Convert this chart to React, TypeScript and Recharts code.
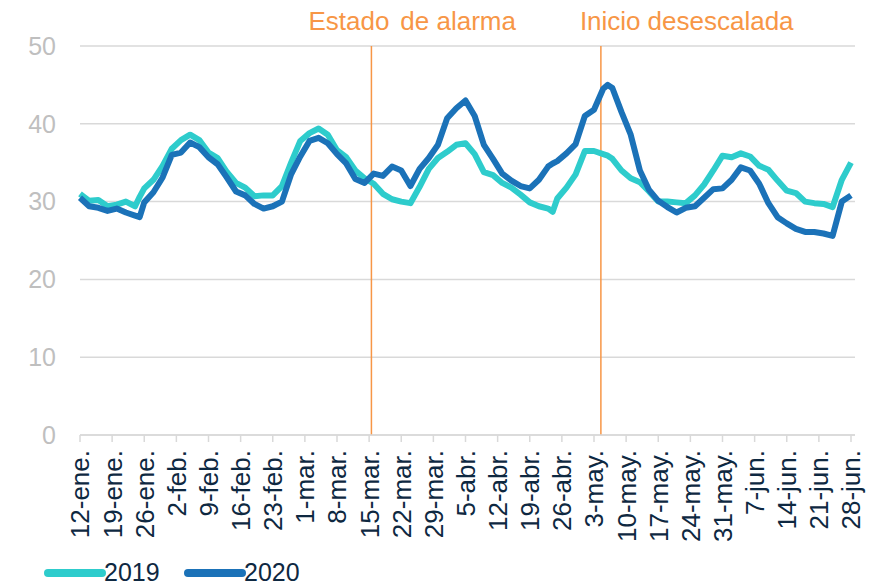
import React from "react";
import { LineChart, Line, XAxis, YAxis, CartesianGrid, ReferenceLine, Legend } from "recharts";

const days = [0,2,4,6,8,10,12,13,14,16,18,20,22,24,26,28,30,32,34,36,38,40,42,44,46,48,50,52,54,56,58,60,62,64,66,68,70,72,74,76,78,80,82,84,86,88,90,92,94,96,98,100,102,103,104,106,108,110,112,114,115,116,118,120,122,124,126,128,130,132,134,136,138,140,142,144,146,148,150,152,154,156,158,160,162,164,166,168];
const values2019 = [31.0,30.1,30.2,29.4,29.6,30.0,29.4,30.6,31.7,32.8,34.6,36.8,37.9,38.6,37.9,36.3,35.6,33.8,32.4,31.8,30.7,30.8,30.8,32.0,35.0,37.8,38.8,39.4,38.6,36.6,35.7,34.0,33.0,32.3,31.0,30.3,30.0,29.8,31.9,34.2,35.6,36.4,37.3,37.5,36.1,33.8,33.4,32.4,31.8,30.9,29.9,29.4,29.1,28.7,30.4,31.8,33.5,36.5,36.5,36.1,35.9,35.5,34.0,33.0,32.5,31.3,30.0,30.0,29.9,29.8,30.8,32.2,34.0,35.9,35.7,36.2,35.8,34.6,34.1,32.7,31.4,31.1,30.0,29.8,29.7,29.3,32.8,35.0];
const values2020 = [30.5,29.4,29.2,28.8,29.1,28.6,28.2,28.0,29.9,31.2,33.1,36.0,36.3,37.6,37.0,35.7,34.8,33.1,31.3,30.8,29.7,29.1,29.4,30.0,33.5,35.8,37.8,38.2,37.5,36.1,34.9,32.9,32.4,33.6,33.3,34.5,34.0,32.0,34.2,35.6,37.3,40.7,42.0,43.0,41.0,37.3,35.5,33.6,32.7,32.0,31.7,32.8,34.5,34.9,35.2,36.2,37.4,41.0,41.8,44.5,45.0,44.6,41.5,38.6,34.0,31.5,30.1,29.3,28.6,29.2,29.4,30.5,31.6,31.7,32.8,34.4,34.0,32.3,29.8,28.0,27.2,26.5,26.1,26.1,25.9,25.6,30.0,30.8];

const tickDays = [0,7,14,21,28,35,42,49,56,63,70,77,84,91,98,105,112,119,126,133,140,147,154,161,168];
const tickLabels = ["12-ene.","19-ene.","26-ene.","2-feb.","9-feb.","16-feb.","23-feb.","1-mar.","8-mar.","15-mar.","22-mar.","29-mar.","5-abr.","12-abr.","19-abr.","26-abr.","3-may.","10-may.","17-may.","24-may.","31-may.","7-jun.","14-jun.","21-jun.","28-jun."];
const yTicks = [0,10,20,30,40,50];

const eventDays = [63.5, 113.5];
const eventLabels = [["Estado", "de alarma"], ["Inicio", "desescalada"]];
const eventLabelShift = [-63, -21];

const seriesNames = ["2019", "2020"];
const seriesColors = ["#2ECCCC", "#1B72B8"];

const data = days.map((d, i) => ({ day: d, v2019: values2019[i], v2020: values2020[i] }));

const FONT = '"Liberation Sans", Arial, sans-serif';

const XTick = (props: any) => {
  const { x, y, payload } = props;
  const idx = tickDays.indexOf(payload.value);
  return (
    <g transform={`translate(${x},${y})`}>
      <text transform="rotate(-90)" x={-6} y={0} dy="0.36em" textAnchor="end" fill="#0E2841" fontSize={26} fontFamily={FONT}>
        {tickLabels[idx]}
      </text>
    </g>
  );
};

const LegendContent = () => (
  <svg width={340} height={28}>
    {seriesNames.map((n, i) => (
      <g key={n} transform={`translate(${i * 140},0)`}>
        <line x1={4} y1={15} x2={58} y2={15} stroke={seriesColors[i]} strokeWidth={8} strokeLinecap="round" />
        <text x={60} y={23} fontSize={25} fill="#0E2841" fontFamily={FONT}>{n}</text>
      </g>
    ))}
  </svg>
);

export default function App() {
  return (
    <div style={{ position: "absolute", left: 0, top: 0 }}>
      <LineChart width={871} height={586} data={data} margin={{ top: 46, right: 16, left: 0, bottom: 13 }}>
        <CartesianGrid vertical={false} stroke="#D9D9D9" strokeWidth={1.5} />
        <XAxis
          dataKey="day"
          type="number"
          domain={[0, 168]}
          ticks={tickDays}
          interval={0}
          tick={<XTick />}
          tickSize={7}
          height={110}
          padding={{ left: 0, right: 4 }}
          axisLine={{ stroke: "#D9D9D9", strokeWidth: 1.5 }}
          tickLine={{ stroke: "#D9D9D9", strokeWidth: 1.5 }}
        />
        <YAxis
          domain={[0, 50]}
          ticks={yTicks}
          width={80}
          axisLine={false}
          tickLine={false}
          tickSize={0}
          tickMargin={24}
          tick={{ fill: "#BFBFBF", fontSize: 25, fontFamily: FONT }}
        />
        {eventDays.map((d, i) => (
          <ReferenceLine
            key={d}
            x={d}
            stroke="#F79646"
            strokeWidth={1.5}
            label={(p: any) => (
              <text x={p.viewBox.x + eventLabelShift[i]} y={30} fill="#F79646" fontSize={26} fontFamily={FONT}>
                <tspan>{eventLabels[i][0]}</tspan>
                <tspan dx={i === 0 ? 11 : 7}>{eventLabels[i][1]}</tspan>
              </text>
            )}
          />
        ))}
        <Line type="linear" dataKey="v2019" name="2019" stroke={seriesColors[0]} strokeWidth={6} dot={false} isAnimationActive={false} strokeLinejoin="round" />
        <Line type="linear" dataKey="v2020" name="2020" stroke={seriesColors[1]} strokeWidth={6} dot={false} isAnimationActive={false} strokeLinejoin="round" />
        <Legend
          verticalAlign="bottom"
          align="left"
          content={<LegendContent />}
          wrapperStyle={{ position: "absolute", left: 44, top: 558, width: 340, height: 28 }}
        />
      </LineChart>
    </div>
  );
}
